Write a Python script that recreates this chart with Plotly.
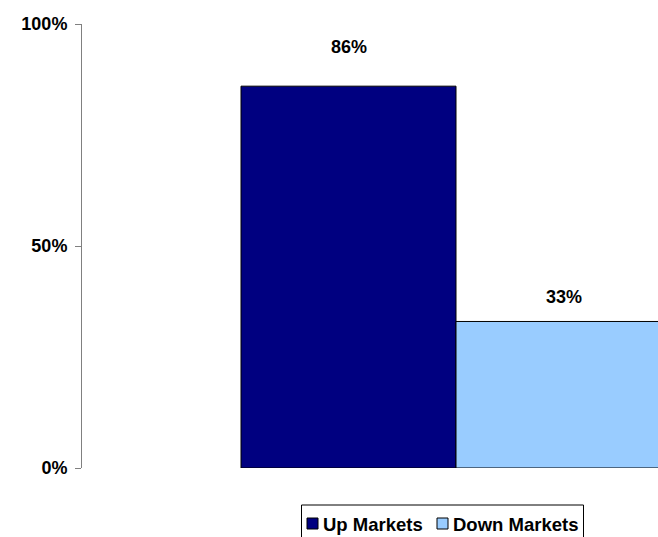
import plotly.graph_objects as go

# Share of periods, by market direction
series = ["Up Markets", "Down Markets"]
values = [0.86, 0.33]
colors = ["#000080", "#99CCFF"]
label_shift = [39, 24]  # px from bar top to the centre of its value label

font_family = "Liberation Sans, Arial, sans-serif"
W, H = 658, 537
L, R, T, B = 82, 0, 24, 69
plot_w, plot_h = W - L - R, H - T - B


def px_x(px):
    return (px - L) / plot_w


def px_y(py):
    return (H - B - py) / plot_h


bargap = 0.2
half = (1 - bargap) / 4  # offset of each bar centre from the group centre

fig = go.Figure()
for name, v, c in zip(series, values, colors):
    fig.add_trace(go.Bar(
        x=[0], y=[v], name=name, showlegend=False,
        marker=dict(color=c, line=dict(color="#000000", width=1)),
    ))

for i, (v, s) in enumerate(zip(values, label_shift)):
    fig.add_annotation(
        x=-half if i == 0 else half, y=v, xref="x", yref="y",
        text=f"<b>{round(v * 100)}%</b>", showarrow=False,
        yanchor="middle", yshift=s,
        font=dict(family=font_family, size=18, color="#000000"),
    )

# Boxed legend below the plot
fig.add_shape(
    type="rect", xref="paper", yref="paper",
    x0=px_x(301.5), x1=px_x(583.5), y0=px_y(505), y1=px_y(545),
    line=dict(color="#000000", width=1), fillcolor="white", layer="above",
)
legend_marker_x = [307, 437]
legend_text_x = [321, 451]
for name, c, mx, tx in zip(series, colors, legend_marker_x, legend_text_x):
    fig.add_shape(
        type="rect", xref="paper", yref="paper",
        x0=px_x(mx), x1=px_x(mx + 11), y0=px_y(518), y1=px_y(529),
        line=dict(color="#000000", width=1), fillcolor=c, layer="above",
    )
    fig.add_annotation(
        x=px_x(tx), y=px_y(524), xref="paper", yref="paper",
        text=f"<b>{name}</b>", showarrow=False,
        xanchor="left", yanchor="middle",
        font=dict(family=font_family, size=18.5, color="#000000"),
    )

fig.update_layout(
    width=W, height=H,
    margin=dict(l=L, r=R, t=T, b=B),
    paper_bgcolor="white", plot_bgcolor="white",
    barmode="group", bargap=bargap, bargroupgap=0,
    showlegend=False,
    font=dict(family=font_family, color="#000000"),
)
fig.update_xaxes(
    range=[(L - 456) / 537.5, (W - R - 456) / 537.5],
    showticklabels=False, showgrid=False,
    zeroline=False, showline=False, ticks="",
)
fig.update_yaxes(
    range=[0, 1], tickvals=[0, 0.5, 1], tickformat=".0%",
    showgrid=False, zeroline=False,
    showline=True, linecolor="#808080", linewidth=1,
    ticks="outside", ticklen=6, tickcolor="#808080",
    ticklabelstandoff=4,
    tickfont=dict(family=font_family, size=18, color="#000000", weight="bold"),
)

fig.write_html("out.html")
